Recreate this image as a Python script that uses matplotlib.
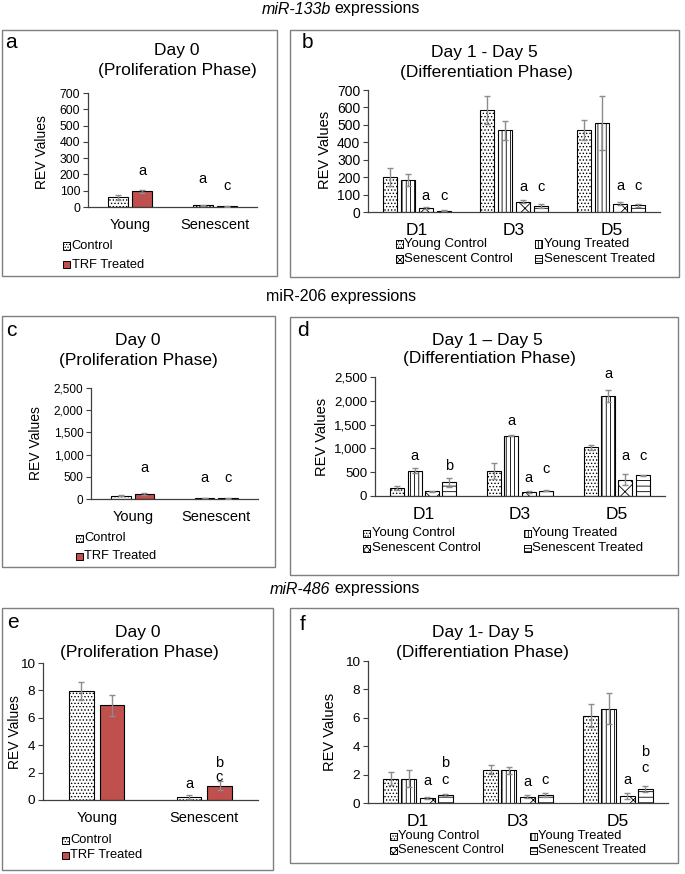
import matplotlib
matplotlib.use("Agg")
import matplotlib.pyplot as plt
from matplotlib.patches import Rectangle
import numpy as np

plt.rcParams['font.family'] = ['Liberation Sans', 'DejaVu Sans']
plt.rcParams['hatch.linewidth'] = 0.6

W, H = 685, 874

# ---------------- data ----------------
day0_groups = ["Young", "Senescent"]
day0_series = ["Control", "TRF Treated"]
diff_groups = ["D1", "D3", "D5"]
diff_series = ["Young Control", "Young Treated", "Senescent Control", "Senescent Treated"]

# miR-133b
a_vals = [[60, 10], [97, 5]]          # series x group
a_err = [[15, 3], [8, 2]]
b_vals = [[200, 583, 470], [185, 470, 508], [25, 60, 48], [8, 35, 38]]
b_err = [[50, 80, 58], [35, 55, 155], [5, 10, 8], [3, 10, 10]]

# miR-206
c_vals = [[70, 20], [110, 15]]
c_err = [[10, 5], [15, 5]]
d_vals = [[170, 525, 1020], [530, 1270, 2100], [100, 85, 345], [285, 110, 440]]
d_err = [[50, 160, 50], [55, 10, 130], [15, 15, 110], [100, 15, 10]]

# miR-486
e_vals = [[7.95, 0.2], [6.9, 1.05]]
e_err = [[0.65, 0.15], [0.75, 0.35]]
f_vals = [[1.7, 2.35, 6.15], [1.72, 2.3, 6.65], [0.35, 0.45, 0.5], [0.55, 0.55, 1.0]]
f_err = [[0.45, 0.3, 0.8], [0.6, 0.25, 1.1], [0.1, 0.12, 0.2], [0.07, 0.12, 0.2]]

# significance letters: (group index, series index, letter, y position in data units)
a_sig = [(0, 1, "a", 218), (1, 0, "a", 171), (1, 1, "c", 126)]
b_sig = [(0, 2, "a", 92), (0, 3, "c", 92), (1, 2, "a", 144), (1, 3, "c", 144),
         (2, 2, "a", 150), (2, 3, "c", 150)]
c_sig = [(0, 1, "a", 696), (1, 0, "a", 471), (1, 1, "c", 471)]
d_sig = [(0, 1, "a", 838), (0, 3, "b", 635), (1, 1, "a", 1578), (1, 2, "a", 370),
         (1, 3, "c", 559), (2, 1, "a", 2556), (2, 2, "a", 845), (2, 3, "c", 845)]
e_sig = [(1, 0, "a", 1.17), (1, 1, "c", 1.71), (1, 1, "b", 2.73)]
f_sig = [(0, 2, "a", 1.52), (0, 3, "c", 1.64), (0, 3, "b", 2.8), (1, 2, "a", 1.47),
         (1, 3, "c", 1.59), (2, 2, "a", 1.59), (2, 3, "c", 2.5), (2, 3, "b", 3.57)]

# ---------------- styles ----------------
RED = "#c0504d"
ERRC = "#8c8c8c"
day0_style = [dict(color="white", hatch="....."), dict(color=RED, hatch=None)]
diff_style = [dict(color="white", hatch="....."), dict(color="white", hatch="||||"),
              dict(color="white", hatch="xx"), dict(color="white", hatch="---")]
legend_hatch = {".....": "......", "||||": "|||||", "xx": "xxxxx", "---": "-----", None: None}

fig = plt.figure(figsize=(W / 100, H / 100), dpi=100)


def fx(x):
    return x / W


def fy(y):
    return 1 - y / H


def px_axes(x0, y0, x1, y1):
    return fig.add_axes([fx(x0), fy(y1), (x1 - x0) / W, (y1 - y0) / H])


def box(x0, y0, x1, y1):
    fig.patches.append(Rectangle((fx(x0), fy(y1)), (x1 - x0) / W, (y1 - y0) / H,
                                 transform=fig.transFigure, fill=False,
                                 edgecolor="#7f7f7f", lw=1.0))


def ftext(x, y, s, **kw):
    fig.text(fx(x), fy(y), s, ha=kw.pop("ha", "center"), va=kw.pop("va", "center"), **kw)


def legend_entry(x, y, style, label, fs):
    s = 7
    fig.patches.append(Rectangle((fx(x), fy(y + s / 2)), s / W, s / H,
                                 transform=fig.transFigure, facecolor=style["color"],
                                 hatch=legend_hatch[style["hatch"]], edgecolor="black", lw=0.7))
    ftext(x + s + 1.5, y, label, ha="left", fontsize=fs)


def draw_bars(ax, groups, vals, errs, styles, width, step, ylim, yticks, ytl,
              tick_fs, cat_fs, sig, sig_fs=10.5):
    n = len(vals)
    x = np.arange(len(groups))
    for i in range(n):
        off = (i - (n - 1) / 2) * step
        ax.bar(x + off, vals[i], width, color=styles[i]["color"], hatch=styles[i]["hatch"],
               edgecolor="black", lw=0.8, zorder=2)
        ax.errorbar(x + off, vals[i], yerr=errs[i], fmt="none", ecolor=ERRC,
                    elinewidth=1.0, capsize=2.5, capthick=1.0, zorder=3)
    for g, s, letter, yv in sig:
        off = (s - (n - 1) / 2) * step
        ax.text(g + off, yv, letter, ha="center", va="center", fontsize=sig_fs,
                clip_on=False)
    ax.set_xlim(-0.5, len(groups) - 0.5)
    ax.set_ylim(*ylim)
    ax.set_yticks(yticks)
    ax.set_yticklabels(ytl, fontsize=tick_fs)
    ax.set_xticks(x)
    ax.set_xticklabels(groups, fontsize=cat_fs)
    ax.tick_params(axis="x", length=0, pad=8)
    ax.tick_params(axis="y", length=3.5, width=0.8, pad=2, color="#404040")
    for sp in ["top", "right"]:
        ax.spines[sp].set_visible(False)
    for sp in ["left", "bottom"]:
        ax.spines[sp].set_color("#404040")
        ax.spines[sp].set_linewidth(0.9)
    ax.patch.set_alpha(0)


# ---------------- headers ----------------
ftext(331, 9, "miR-133b", ha="right", fontsize=11.5, style="italic")
ftext(334, 9, "expressions", ha="left", fontsize=11.5)
ftext(341, 296, "miR-206 expressions", fontsize=11.5)
ftext(330, 589, "miR-486", ha="right", fontsize=11.5, style="italic")
ftext(334, 589, "expressions", ha="left", fontsize=11.5)

# ---------------- panel a ----------------
box(2, 30, 277, 276)
ax = px_axes(88, 93, 257, 207)
draw_bars(ax, day0_groups, a_vals, a_err, day0_style, 0.237, 0.284, (0, 700),
          range(0, 701, 100), [str(v) for v in range(0, 701, 100)], 8.8, 10.5, a_sig)
ftext(11, 42, "a", fontsize=15)
ftext(177, 51, "Day 0", fontsize=12.5)
ftext(177, 70, "(Proliferation Phase)", fontsize=12.5)
ftext(42, 152, "REV Values", rotation=90, fontsize=10)
legend_entry(63, 246, day0_style[0], day0_series[0], 9.3)
legend_entry(63, 265, day0_style[1], day0_series[1], 9.3)

# ---------------- panel b ----------------
box(290, 30, 679, 277)
ax = px_axes(368, 90, 660, 212)
draw_bars(ax, diff_groups, b_vals, b_err, diff_style, 0.145, 0.185, (0, 700),
          range(0, 701, 100), [str(v) for v in range(0, 701, 100)], 10, 12.5, b_sig)
ftext(307, 42, "b", fontsize=15)
ftext(484, 53, "Day 1 - Day 5", fontsize=12.5)
ftext(486, 72, "(Differentiation Phase)", fontsize=12.5)
ftext(325, 150, "REV Values", rotation=90, fontsize=10.5)
legend_entry(396, 244, diff_style[0], diff_series[0], 9.5)
legend_entry(535, 244, diff_style[1], diff_series[1], 9.5)
legend_entry(396, 259, diff_style[2], diff_series[2], 9.5)
legend_entry(535, 259, diff_style[3], diff_series[3], 9.5)

# ---------------- panel c ----------------
box(2, 316, 275, 567)
ax = px_axes(91, 388, 258, 499)
c_ticks = range(0, 2501, 500)
draw_bars(ax, day0_groups, c_vals, c_err, day0_style, 0.23, 0.28, (0, 2500),
          c_ticks, [f"{v:,}" for v in c_ticks], 8.5, 10.5, c_sig)
ftext(11, 331, "c", fontsize=15)
ftext(138, 340, "Day 0", fontsize=12.5)
ftext(138, 360, "(Proliferation Phase)", fontsize=12.5)
ftext(36, 443, "REV Values", rotation=90, fontsize=10)
legend_entry(76, 538, day0_style[0], day0_series[0], 9.3)
legend_entry(76, 556, day0_style[1], day0_series[1], 9.3)

# ---------------- panel d ----------------
box(290, 317, 678, 575)
ax = px_axes(375, 377, 665, 496)
d_ticks = range(0, 2501, 500)
draw_bars(ax, diff_groups, d_vals, d_err, diff_style, 0.145, 0.18, (0, 2500),
          d_ticks, [f"{v:,}" for v in d_ticks], 9.5, 12.5, d_sig)
ftext(303, 331, "d", fontsize=15)
ftext(487, 340, "Day 1 \u2013 Day 5", fontsize=12.5)
ftext(489, 359, "(Differentiation Phase)", fontsize=12.5)
ftext(322, 437, "REV Values", rotation=90, fontsize=10.5)
legend_entry(363, 533, diff_style[0], diff_series[0], 9.5)
legend_entry(524, 533, diff_style[1], diff_series[1], 9.5)
legend_entry(363, 548, diff_style[2], diff_series[2], 9.5)
legend_entry(524, 548, diff_style[3], diff_series[3], 9.5)

# ---------------- panel e ----------------
box(2, 608, 273, 870)
ax = px_axes(43, 663, 258, 800)
e_ticks = range(0, 11, 2)
draw_bars(ax, day0_groups, e_vals, e_err, day0_style, 0.23, 0.284, (0, 10),
          e_ticks, [str(v) for v in e_ticks], 9.7, 10.5, e_sig)
ftext(13, 622, "e", fontsize=15)
ftext(138, 633, "Day 0", fontsize=12.5)
ftext(139, 653, "(Proliferation Phase)", fontsize=12.5)
ftext(15, 732, "REV Values", rotation=90, fontsize=10)
legend_entry(62, 840, day0_style[0], day0_series[0], 9.3)
legend_entry(62, 855, day0_style[1], day0_series[1], 9.3)

# ---------------- panel f ----------------
box(290, 608, 678, 863)
ax = px_axes(368, 661, 668, 803)
f_ticks = range(0, 11, 2)
draw_bars(ax, diff_groups, f_vals, f_err, diff_style, 0.15, 0.183, (0, 10),
          f_ticks, [str(v) for v in f_ticks], 9.7, 12.5, f_sig)
ftext(303, 624, "f", fontsize=15)
ftext(483, 633, "Day 1- Day 5", fontsize=12.5)
ftext(482, 653, "(Differentiation Phase)", fontsize=12.5)
ftext(330, 732, "REV Values", rotation=90, fontsize=10.5)
legend_entry(390, 836, diff_style[0], diff_series[0], 9.3)
legend_entry(530, 836, diff_style[1], diff_series[1], 9.3)
legend_entry(390, 850, diff_style[2], diff_series[2], 9.3)
legend_entry(530, 850, diff_style[3], diff_series[3], 9.3)

fig.savefig("out.png", dpi=100)
